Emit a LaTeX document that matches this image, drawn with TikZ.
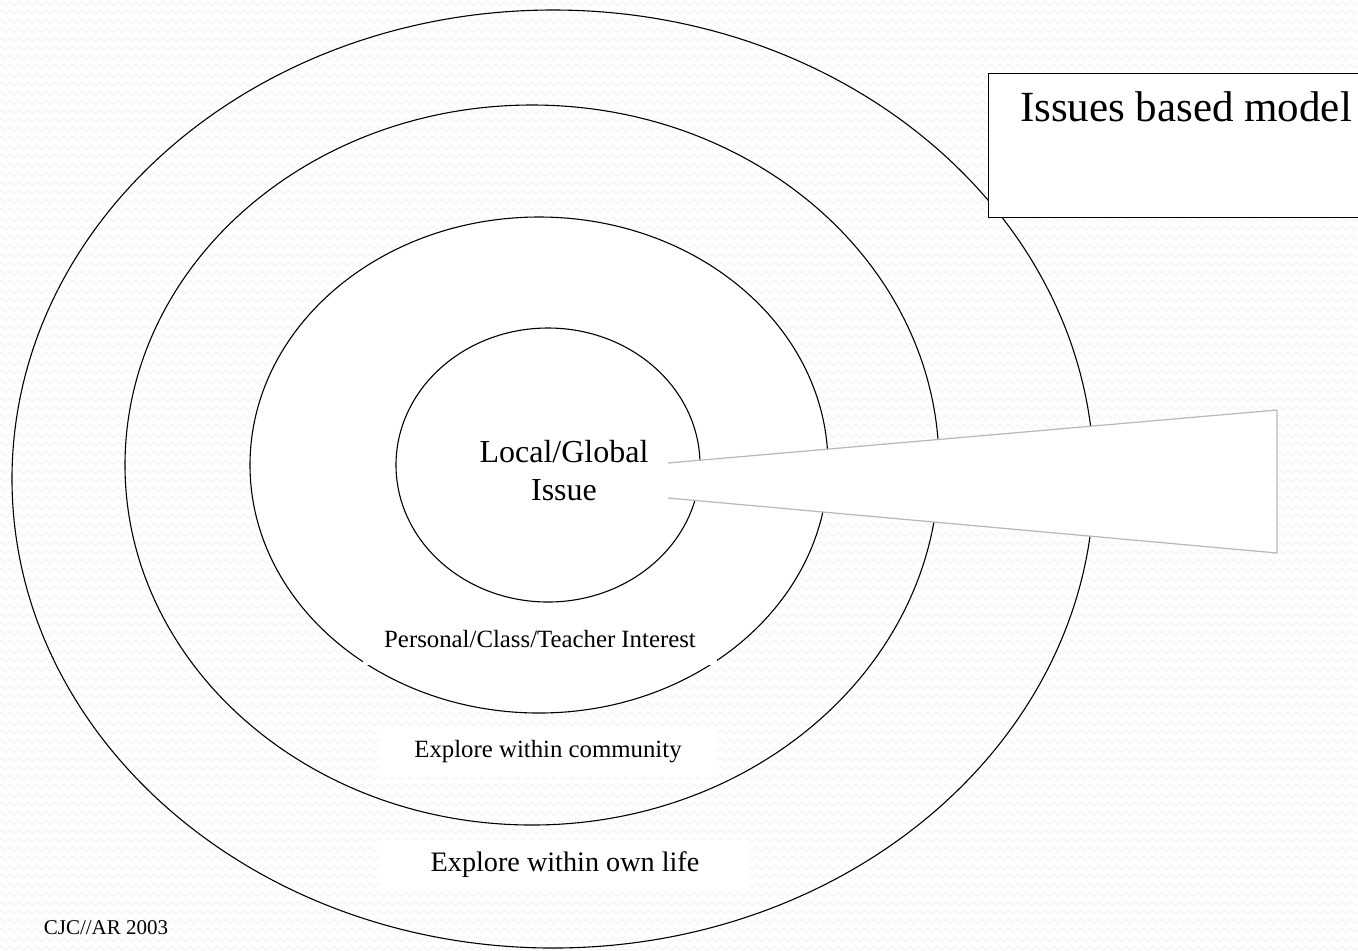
\documentclass[tikz,border=0pt]{standalone}
\usepackage{fontspec}
\setmainfont{Liberation Serif}
\usetikzlibrary{shapes.geometric, patterns.meta}

\tikzdeclarepattern{
  name=wavelets,
  type=uncolored,
  bounding box={(0pt,0pt) and (4.5pt,4.5pt)},
  tile size={(4.5pt,4.5pt)},
  code={\draw[line width=0.45pt,line cap=round] (0pt,1.5pt) .. controls (0.6pt,3pt) and (1.65pt,3pt) .. (2.25pt,1.5pt) .. controls (2.85pt,0pt) and (3.9pt,0pt) .. (4.5pt,1.5pt);}
}

\begin{document}
\begin{tikzpicture}[x=0.5pt,y=-0.5pt,
  ring/.style={ellipse,draw,line width=0.55pt,inner sep=0pt},
  tag/.style={fill=white,inner sep=0pt},
  wedge line/.style={draw=black!28,line width=0.6pt}]

  \clip (0,0) rectangle (1358,950);
  \fill[white] (0,0) rectangle (1358,950);
  \fill[pattern=wavelets,pattern color=black!5] (0,0) rectangle (1358,950);

  \node[ring, minimum width=541pt, minimum height=469pt] (life) at (553,479) {};
  \node[ring, minimum width=407pt, minimum height=360pt] (community) at (532,465) {};
  \node[ring, fill=white, minimum width=289pt, minimum height=248pt] (interest) at (539,465) {};
  \node[ring, fill=white, minimum width=152pt, minimum height=137pt] (issue) at (548,465) {};

  \coordinate (tipA) at (668,463);
  \coordinate (endA) at (1277,410);
  \coordinate (endB) at (1277,553);
  \coordinate (tipB) at (668,498);
  \fill[white] (tipA) -- (endA) -- (endB) -- (tipB) -- cycle;
  \draw[wedge line] (tipA) -- (endA) -- (endB) -- (tipB);

  \node[align=center, font=\fontsize{16}{19}\selectfont] (issuetext) at (564,471) {Local/Global\\Issue};
  \node[tag, minimum width=177pt, minimum height=26pt, font=\fontsize{12.4}{14}\selectfont] (interesttext) at (540,639) {Personal/Class/Teacher Interest};
  \node[tag, minimum width=168.5pt, minimum height=25pt, font=\fontsize{12.4}{14}\selectfont] (communitytext) at (548,752) {Explore within community};
  \node[tag, minimum width=185pt, minimum height=25pt, font=\fontsize{14.1}{16}\selectfont] (lifetext) at (565,865) {Explore within own life};

  \node[draw, fill=white, line width=0.6pt, inner sep=0pt, anchor=north west,
        minimum width=200pt, minimum height=72pt] (modelbox) at (988,73) {};
  \node[font=\fontsize{21.5}{24}\selectfont] (title) at (1186,107) {Issues based model};

  \node[font=\fontsize{10.5}{12}\selectfont] (credit) at (106,928) {CJC//AR 2003};
\end{tikzpicture}
\end{document}
